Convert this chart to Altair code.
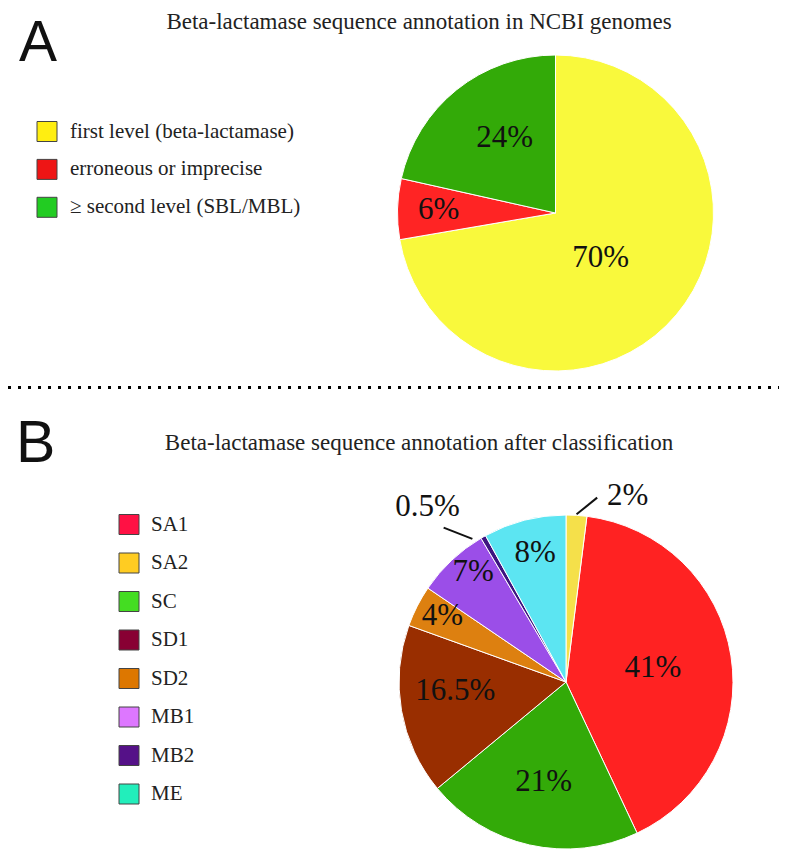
import math
import altair as alt
import pandas as pd

# ---------------- data ----------------
a_title = "Beta-lactamase sequence annotation in NCBI genomes"
a_categories = ["first level (beta-lactamase)", "erroneous or imprecise", "\u2265 second level (SBL/MBL)"]
a_labels = ["70%", "6%", "24%"]
# sector sizes as actually drawn in the source figure (its printed labels are rounded differently)
a_drawn = [72.3, 6.2, 21.5]

b_title = "Beta-lactamase sequence annotation after classification"
b_categories = ["SA1", "SA2", "SC", "SD1", "SD2", "MB1", "MB2", "ME"]
b_values = [41, 2, 21, 16.5, 4, 7, 0.5, 8]
b_labels = ["41%", "2%", "21%", "16.5%", "4%", "7%", "0.5%", "8%"]
b_pie_order = ["SA2", "SA1", "SC", "SD1", "SD2", "MB1", "MB2", "ME"]

# ---------------- style ----------------
W, H = 771, 843
SERIF = "Liberation Serif"
SANS = "Liberation Sans"

A_CX, A_CY, A_R = 547.5, 205, 158
B_CX, B_CY, B_R = 558, 674, 167

a_pie_colors = ["#f9f93c", "#ff2424", "#33aa08"]
a_legend_colors = ["#ffee11", "#ee1515", "#22cc22"]
b_pie_colors = ["#ff2222", "#f5e04a", "#33aa08", "#992e00", "#dd8010", "#9b4ee8", "#3d1480", "#5ce5f2"]
b_legend_colors = ["#ff1144", "#ffcc22", "#44dd22", "#880033", "#dd7700", "#dd77ff", "#551188", "#22eebb"]

# label placement: (radius px, angular nudge in degrees from sector middle)
a_label_place = [(64, 5), (117, 0), (91, 4.7)]
b_label_place = {"SA1": (88, 0), "SA2": (196, 14.7), "SC": (102, 0), "SD1": (111, 5),
                 "SD2": (140, 1), "MB1": (144, 3), "MB2": (223, -8.7), "ME": (133, 1)}
# leader lines: ((r1, nudge1), (r2, nudge2))
b_leaders = {"SA2": ((168, 0), (187, 6)), "MB2": ((171, -3.5), (197, -8.7))}


def mid_angles(values):
    tot = sum(values)
    out, cum = [], 0.0
    for v in values:
        out.append((cum + v / 2) / tot * 360.0)
        cum += v
    return out


def polar(cx, cy, r, deg):
    a = math.radians(deg)
    return cx + r * math.sin(a), cy - r * math.cos(a)


def pie_layer(cats, vals, colors, order, cx, cy, r):
    df = pd.DataFrame({
        "cat": cats,
        "value": vals,
        "fill": colors,
        "k": [order.index(c) for c in cats],
    })
    return alt.Chart(df).mark_arc(radius=r, stroke="white", strokeWidth=1).encode(
        theta=alt.Theta("value:Q", stack=True, scale=alt.Scale(domain=[0, 100])),
        order=alt.Order("k:Q", sort="ascending"),
        color=alt.Color("fill:N", scale=None, legend=None),
        x=alt.value(cx),
        y=alt.value(cy),
    )


def label_layer(texts, xs, ys, size=31):
    df = pd.DataFrame({"t": texts, "px": xs, "py": ys})
    return alt.Chart(df).mark_text(font=SERIF, fontSize=size, color="#111",
                                   align="center", baseline="middle").encode(
        x=alt.X("px:Q", scale=None, axis=None),
        y=alt.Y("py:Q", scale=None, axis=None),
        text="t:N",
    )


def legend_layers(cats, colors, x0, y0, step, tx):
    df = pd.DataFrame({"cat": cats, "fill": colors})
    df["ly"] = [y0 + i * step for i in range(len(cats))]
    df["lx"] = x0
    df["tx"] = tx
    sq = alt.Chart(df).mark_square(size=400, opacity=1, stroke="#444", strokeWidth=1).encode(
        x=alt.X("lx:Q", scale=None, axis=None),
        y=alt.Y("ly:Q", scale=None, axis=None),
        color=alt.Color("fill:N", scale=None, legend=None),
    )
    tt = alt.Chart(df).mark_text(font=SERIF, fontSize=21, color="#222",
                                 align="left", baseline="middle").encode(
        x=alt.X("tx:Q", scale=None, axis=None),
        y=alt.Y("ly:Q", scale=None, axis=None),
        text="cat:N",
    )
    return [sq, tt]


def text_note(t, x, y, font, size, align="left", color="#111"):
    return alt.Chart(pd.DataFrame({"t": [t]})).mark_text(
        font=font, fontSize=size, align=align, baseline="alphabetic", color=color
    ).encode(text="t:N", x=alt.value(x), y=alt.value(y))


layers = []

# ---- panel A ----
layers.append(pie_layer(a_categories, a_drawn, a_pie_colors, a_categories, A_CX, A_CY, A_R))
a_mids = mid_angles(a_drawn)
axs, ays = [], []
for m, (r, d) in zip(a_mids, a_label_place):
    px, py = polar(A_CX, A_CY, r, m + d)
    axs.append(px)
    ays.append(py)
layers.append(label_layer(a_labels, axs, ays))
layers += legend_layers(a_categories, a_legend_colors, 39, 123.5, 37.9, 62)
layers.append(text_note(a_title, 411, 21, SERIF, 23, align="center", color="#222"))
layers.append(text_note("A", 11, 53, SANS, 57))

# ---- separator ----
layers.append(
    alt.Chart(pd.DataFrame({"d": [0]})).mark_rule(
        color="black", strokeWidth=3, strokeDash=[3, 7]
    ).encode(x=alt.value(0), x2=alt.value(W), y=alt.value(379.5))
)

# ---- panel B ----
b_fill = dict(zip(b_categories, b_pie_colors))
layers.append(pie_layer(b_categories, b_values, [b_fill[c] for c in b_categories],
                        b_pie_order, B_CX, B_CY, B_R))
b_ordered_vals = [b_values[b_categories.index(c)] for c in b_pie_order]
b_mid = dict(zip(b_pie_order, mid_angles(b_ordered_vals)))
bxs, bys = [], []
for c in b_categories:
    r, d = b_label_place[c]
    px, py = polar(B_CX, B_CY, r, b_mid[c] + d)
    bxs.append(px)
    bys.append(py)
layers.append(label_layer(b_labels, bxs, bys))

lead_rows = []
for c, ((r1, d1), (r2, d2)) in b_leaders.items():
    x1, y1 = polar(B_CX, B_CY, r1, b_mid[c] + d1)
    x2, y2 = polar(B_CX, B_CY, r2, b_mid[c] + d2)
    lead_rows.append({"cat": c, "x1": x1, "y1": y1, "x2": x2, "y2": y2})
layers.append(
    alt.Chart(pd.DataFrame(lead_rows)).mark_rule(color="#111", strokeWidth=2).encode(
        x=alt.X("x1:Q", scale=None, axis=None),
        y=alt.Y("y1:Q", scale=None, axis=None),
        x2="x2:Q",
        y2="y2:Q",
    )
)
layers += legend_layers(b_categories, b_legend_colors, 121, 516.5, 38.5, 143)
layers.append(text_note(b_title, 411, 442, SERIF, 23, align="center", color="#222"))
layers.append(text_note("B", 8, 454, SANS, 59))

chart = alt.layer(*layers).resolve_scale(theta="independent").properties(
    width=W, height=H, padding=0, background="white",
    autosize=alt.AutoSizeParams(type="none"),
).configure_view(stroke=None)

chart.save("out.html", embed_options={"renderer": "svg", "actions": False})
